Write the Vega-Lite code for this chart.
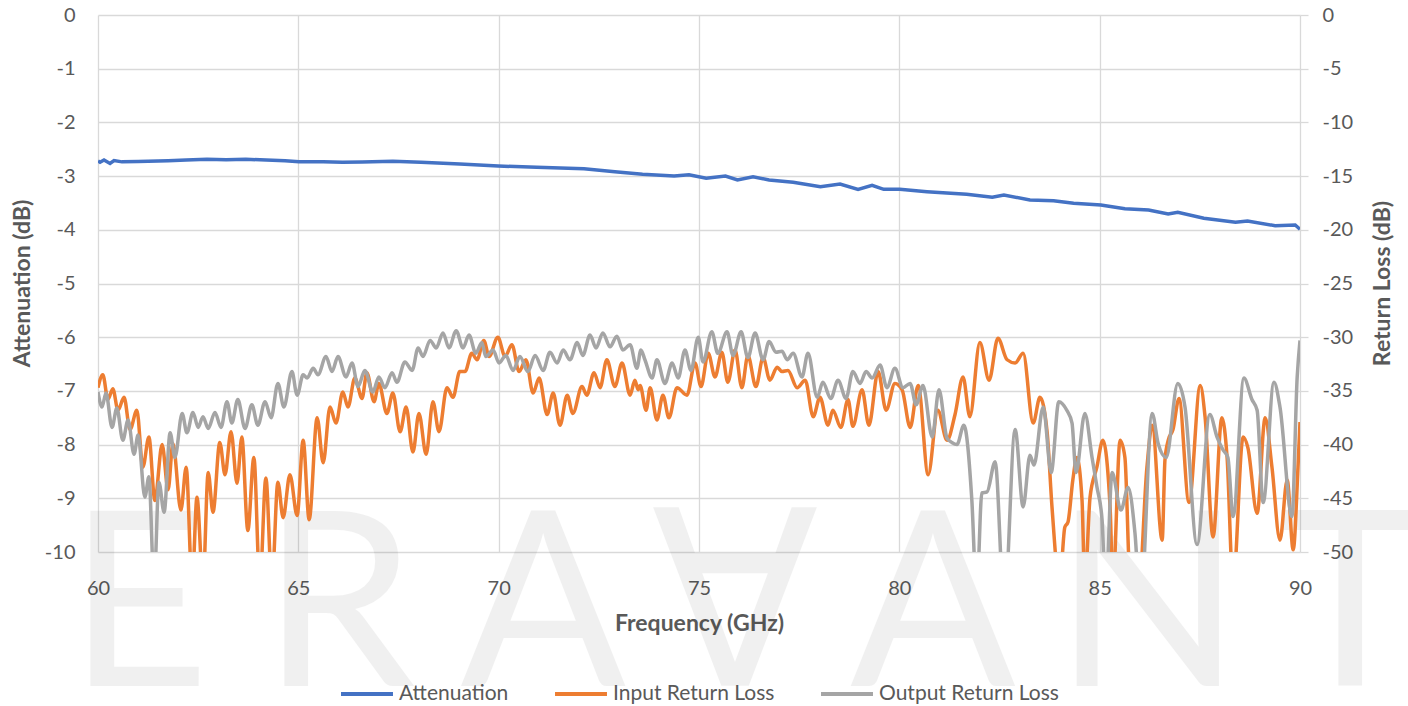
{
  "$schema": "https://vega.github.io/schema/vega-lite/v6.json",
  "width": 1202,
  "height": 537,
  "autosize": {"type": "none"},
  "padding": {"left": 98, "top": 15, "right": 108, "bottom": 154},
  "background": "white",
  "config": {
    "view": {"stroke": null},
    "font": "Lato",
    "axis": {
      "labelFont": "Lato", "labelFontSize": 20, "labelColor": "#595959", "labelFlush": false, "labelOverlap": false,
      "labelExpr": "'' + datum.value",
      "titleFont": "Lato", "titleFontSize": 23, "titleFontWeight": "bold", "titleColor": "#595959",
      "gridColor": "#d9d9d9", "gridWidth": 1.3, "domain": false, "ticks": false
    },
    "legend": {
      "orient": "none", "direction": "horizontal", "legendX": 241, "legendY": 651,
      "symbolType": "stroke", "symbolStrokeWidth": 4, "symbolSize": 2700,
      "labelFont": "Lato", "labelFontSize": 21, "labelColor": "#595959", "labelLimit": 400,
      "columnPadding": 38, "labelOffset": 4, "padding": 0
    }
  },
  "datasets": {
    "wm": [
      {"letter": "E", "pos": 61.02, "vpos": -12.5},
      {"letter": "R", "pos": 66.01, "vpos": -12.5},
      {"letter": "A", "pos": 71.11, "vpos": -12.5},
      {"letter": "∀", "pos": 75.9, "vpos": -12.5},
      {"letter": "A", "pos": 80.84, "vpos": -12.5},
      {"letter": "N", "pos": 86.2, "vpos": -12.5},
      {"letter": "T", "pos": 91.25, "vpos": -12.5}
    ],
    "att": [
      {"f": 60.0, "v": -2.72, "s": "Attenuation"},
      {"f": 60.05, "v": -2.743, "s": "Attenuation"},
      {"f": 60.15, "v": -2.70, "s": "Attenuation"},
      {"f": 60.3, "v": -2.765, "s": "Attenuation"},
      {"f": 60.4, "v": -2.71, "s": "Attenuation"},
      {"f": 60.6, "v": -2.735, "s": "Attenuation"},
      {"f": 61.0, "v": -2.73, "s": "Attenuation"},
      {"f": 61.75, "v": -2.713, "s": "Attenuation"},
      {"f": 62.2, "v": -2.70, "s": "Attenuation"},
      {"f": 62.72, "v": -2.687, "s": "Attenuation"},
      {"f": 63.2, "v": -2.695, "s": "Attenuation"},
      {"f": 63.69, "v": -2.687, "s": "Attenuation"},
      {"f": 64.2, "v": -2.70, "s": "Attenuation"},
      {"f": 64.67, "v": -2.713, "s": "Attenuation"},
      {"f": 65.02, "v": -2.732, "s": "Attenuation"},
      {"f": 65.62, "v": -2.732, "s": "Attenuation"},
      {"f": 66.1, "v": -2.74, "s": "Attenuation"},
      {"f": 66.59, "v": -2.737, "s": "Attenuation"},
      {"f": 67.36, "v": -2.724, "s": "Attenuation"},
      {"f": 68.06, "v": -2.743, "s": "Attenuation"},
      {"f": 69.03, "v": -2.775, "s": "Attenuation"},
      {"f": 69.99, "v": -2.812, "s": "Attenuation"},
      {"f": 70.95, "v": -2.836, "s": "Attenuation"},
      {"f": 72.13, "v": -2.862, "s": "Attenuation"},
      {"f": 72.9, "v": -2.918, "s": "Attenuation"},
      {"f": 73.59, "v": -2.966, "s": "Attenuation"},
      {"f": 74.38, "v": -2.998, "s": "Attenuation"},
      {"f": 74.75, "v": -2.974, "s": "Attenuation"},
      {"f": 75.18, "v": -3.041, "s": "Attenuation"},
      {"f": 75.66, "v": -2.998, "s": "Attenuation"},
      {"f": 75.96, "v": -3.073, "s": "Attenuation"},
      {"f": 76.35, "v": -3.011, "s": "Attenuation"},
      {"f": 76.75, "v": -3.073, "s": "Attenuation"},
      {"f": 77.35, "v": -3.115, "s": "Attenuation"},
      {"f": 78.03, "v": -3.197, "s": "Attenuation"},
      {"f": 78.52, "v": -3.147, "s": "Attenuation"},
      {"f": 78.97, "v": -3.246, "s": "Attenuation"},
      {"f": 79.32, "v": -3.171, "s": "Attenuation"},
      {"f": 79.61, "v": -3.246, "s": "Attenuation"},
      {"f": 80.01, "v": -3.246, "s": "Attenuation"},
      {"f": 80.69, "v": -3.29, "s": "Attenuation"},
      {"f": 81.68, "v": -3.339, "s": "Attenuation"},
      {"f": 82.32, "v": -3.395, "s": "Attenuation"},
      {"f": 82.61, "v": -3.352, "s": "Attenuation"},
      {"f": 83.26, "v": -3.445, "s": "Attenuation"},
      {"f": 83.85, "v": -3.458, "s": "Attenuation"},
      {"f": 84.35, "v": -3.507, "s": "Attenuation"},
      {"f": 85.03, "v": -3.538, "s": "Attenuation"},
      {"f": 85.63, "v": -3.607, "s": "Attenuation"},
      {"f": 86.22, "v": -3.631, "s": "Attenuation"},
      {"f": 86.71, "v": -3.706, "s": "Attenuation"},
      {"f": 86.95, "v": -3.674, "s": "Attenuation"},
      {"f": 87.6, "v": -3.786, "s": "Attenuation"},
      {"f": 88.39, "v": -3.86, "s": "Attenuation"},
      {"f": 88.69, "v": -3.836, "s": "Attenuation"},
      {"f": 89.38, "v": -3.924, "s": "Attenuation"},
      {"f": 89.88, "v": -3.911, "s": "Attenuation"},
      {"f": 90.0, "v": -3.99, "s": "Attenuation"}
    ],
    "rl": [
      {"f": 60.00, "v": -34.7, "s": "Input Return Loss"},
      {"f": 60.12, "v": -33.5, "s": "Input Return Loss"},
      {"f": 60.25, "v": -35.8, "s": "Input Return Loss"},
      {"f": 60.37, "v": -34.8, "s": "Input Return Loss"},
      {"f": 60.50, "v": -36.8, "s": "Input Return Loss"},
      {"f": 60.65, "v": -35.6, "s": "Input Return Loss"},
      {"f": 60.80, "v": -38.6, "s": "Input Return Loss"},
      {"f": 60.97, "v": -36.8, "s": "Input Return Loss"},
      {"f": 61.12, "v": -42.1, "s": "Input Return Loss"},
      {"f": 61.27, "v": -39.3, "s": "Input Return Loss"},
      {"f": 61.42, "v": -45.2, "s": "Input Return Loss"},
      {"f": 61.60, "v": -40.0, "s": "Input Return Loss"},
      {"f": 61.75, "v": -44.2, "s": "Input Return Loss"},
      {"f": 61.87, "v": -39.9, "s": "Input Return Loss"},
      {"f": 62.07, "v": -46.1, "s": "Input Return Loss"},
      {"f": 62.20, "v": -42.1, "s": "Input Return Loss"},
      {"f": 62.35, "v": -53, "s": "Input Return Loss"},
      {"f": 62.47, "v": -44.9, "s": "Input Return Loss"},
      {"f": 62.62, "v": -53, "s": "Input Return Loss"},
      {"f": 62.75, "v": -42.6, "s": "Input Return Loss"},
      {"f": 62.87, "v": -46.3, "s": "Input Return Loss"},
      {"f": 63.04, "v": -39.8, "s": "Input Return Loss"},
      {"f": 63.17, "v": -42.8, "s": "Input Return Loss"},
      {"f": 63.32, "v": -38.8, "s": "Input Return Loss"},
      {"f": 63.47, "v": -43.6, "s": "Input Return Loss"},
      {"f": 63.59, "v": -39.3, "s": "Input Return Loss"},
      {"f": 63.74, "v": -48.0, "s": "Input Return Loss"},
      {"f": 63.89, "v": -41.2, "s": "Input Return Loss"},
      {"f": 64.04, "v": -53, "s": "Input Return Loss"},
      {"f": 64.19, "v": -43.1, "s": "Input Return Loss"},
      {"f": 64.34, "v": -53, "s": "Input Return Loss"},
      {"f": 64.49, "v": -43.5, "s": "Input Return Loss"},
      {"f": 64.62, "v": -46.8, "s": "Input Return Loss"},
      {"f": 64.79, "v": -42.8, "s": "Input Return Loss"},
      {"f": 64.97, "v": -46.6, "s": "Input Return Loss"},
      {"f": 65.12, "v": -39.6, "s": "Input Return Loss"},
      {"f": 65.27, "v": -47.0, "s": "Input Return Loss"},
      {"f": 65.47, "v": -37.5, "s": "Input Return Loss"},
      {"f": 65.62, "v": -41.7, "s": "Input Return Loss"},
      {"f": 65.79, "v": -36.5, "s": "Input Return Loss"},
      {"f": 65.94, "v": -38.0, "s": "Input Return Loss"},
      {"f": 66.11, "v": -35.1, "s": "Input Return Loss"},
      {"f": 66.24, "v": -36.5, "s": "Input Return Loss"},
      {"f": 66.41, "v": -33.8, "s": "Input Return Loss"},
      {"f": 66.59, "v": -35.7, "s": "Input Return Loss"},
      {"f": 66.71, "v": -33.3, "s": "Input Return Loss"},
      {"f": 66.89, "v": -36.0, "s": "Input Return Loss"},
      {"f": 67.01, "v": -34.3, "s": "Input Return Loss"},
      {"f": 67.21, "v": -37.1, "s": "Input Return Loss"},
      {"f": 67.36, "v": -35.2, "s": "Input Return Loss"},
      {"f": 67.54, "v": -38.8, "s": "Input Return Loss"},
      {"f": 67.69, "v": -36.5, "s": "Input Return Loss"},
      {"f": 67.86, "v": -40.7, "s": "Input Return Loss"},
      {"f": 68.01, "v": -37.1, "s": "Input Return Loss"},
      {"f": 68.19, "v": -40.9, "s": "Input Return Loss"},
      {"f": 68.36, "v": -36.0, "s": "Input Return Loss"},
      {"f": 68.51, "v": -38.8, "s": "Input Return Loss"},
      {"f": 68.71, "v": -34.7, "s": "Input Return Loss"},
      {"f": 68.86, "v": -35.6, "s": "Input Return Loss"},
      {"f": 69.03, "v": -33.2, "s": "Input Return Loss"},
      {"f": 69.16, "v": -33.2, "s": "Input Return Loss"},
      {"f": 69.33, "v": -31.5, "s": "Input Return Loss"},
      {"f": 69.46, "v": -32.1, "s": "Input Return Loss"},
      {"f": 69.63, "v": -30.3, "s": "Input Return Loss"},
      {"f": 69.76, "v": -31.8, "s": "Input Return Loss"},
      {"f": 69.98, "v": -30.0, "s": "Input Return Loss"},
      {"f": 70.16, "v": -31.8, "s": "Input Return Loss"},
      {"f": 70.33, "v": -30.7, "s": "Input Return Loss"},
      {"f": 70.51, "v": -33.2, "s": "Input Return Loss"},
      {"f": 70.68, "v": -32.1, "s": "Input Return Loss"},
      {"f": 70.86, "v": -35.2, "s": "Input Return Loss"},
      {"f": 71.01, "v": -33.8, "s": "Input Return Loss"},
      {"f": 71.21, "v": -37.2, "s": "Input Return Loss"},
      {"f": 71.36, "v": -35.2, "s": "Input Return Loss"},
      {"f": 71.53, "v": -38.2, "s": "Input Return Loss"},
      {"f": 71.71, "v": -35.4, "s": "Input Return Loss"},
      {"f": 71.85, "v": -37.1, "s": "Input Return Loss"},
      {"f": 72.08, "v": -34.6, "s": "Input Return Loss"},
      {"f": 72.20, "v": -35.4, "s": "Input Return Loss"},
      {"f": 72.38, "v": -33.3, "s": "Input Return Loss"},
      {"f": 72.53, "v": -34.7, "s": "Input Return Loss"},
      {"f": 72.70, "v": -32.1, "s": "Input Return Loss"},
      {"f": 72.90, "v": -34.6, "s": "Input Return Loss"},
      {"f": 73.08, "v": -32.4, "s": "Input Return Loss"},
      {"f": 73.28, "v": -35.4, "s": "Input Return Loss"},
      {"f": 73.40, "v": -34.0, "s": "Input Return Loss"},
      {"f": 73.48, "v": -34.9, "s": "Input Return Loss"},
      {"f": 73.53, "v": -34.5, "s": "Input Return Loss"},
      {"f": 73.68, "v": -36.8, "s": "Input Return Loss"},
      {"f": 73.78, "v": -34.7, "s": "Input Return Loss"},
      {"f": 73.95, "v": -37.7, "s": "Input Return Loss"},
      {"f": 74.10, "v": -35.4, "s": "Input Return Loss"},
      {"f": 74.25, "v": -37.5, "s": "Input Return Loss"},
      {"f": 74.45, "v": -34.7, "s": "Input Return Loss"},
      {"f": 74.70, "v": -35.4, "s": "Input Return Loss"},
      {"f": 74.90, "v": -32.4, "s": "Input Return Loss"},
      {"f": 75.05, "v": -34.6, "s": "Input Return Loss"},
      {"f": 75.23, "v": -31.5, "s": "Input Return Loss"},
      {"f": 75.40, "v": -33.7, "s": "Input Return Loss"},
      {"f": 75.57, "v": -31.4, "s": "Input Return Loss"},
      {"f": 75.72, "v": -34.2, "s": "Input Return Loss"},
      {"f": 75.90, "v": -31.2, "s": "Input Return Loss"},
      {"f": 76.07, "v": -34.7, "s": "Input Return Loss"},
      {"f": 76.22, "v": -31.7, "s": "Input Return Loss"},
      {"f": 76.42, "v": -34.6, "s": "Input Return Loss"},
      {"f": 76.60, "v": -31.9, "s": "Input Return Loss"},
      {"f": 76.77, "v": -34.0, "s": "Input Return Loss"},
      {"f": 76.95, "v": -32.8, "s": "Input Return Loss"},
      {"f": 77.07, "v": -33.2, "s": "Input Return Loss"},
      {"f": 77.22, "v": -33.1, "s": "Input Return Loss"},
      {"f": 77.45, "v": -34.7, "s": "Input Return Loss"},
      {"f": 77.65, "v": -34.0, "s": "Input Return Loss"},
      {"f": 77.85, "v": -37.4, "s": "Input Return Loss"},
      {"f": 78.02, "v": -35.6, "s": "Input Return Loss"},
      {"f": 78.22, "v": -38.2, "s": "Input Return Loss"},
      {"f": 78.34, "v": -36.8, "s": "Input Return Loss"},
      {"f": 78.54, "v": -38.4, "s": "Input Return Loss"},
      {"f": 78.72, "v": -35.8, "s": "Input Return Loss"},
      {"f": 78.84, "v": -38.3, "s": "Input Return Loss"},
      {"f": 79.07, "v": -34.9, "s": "Input Return Loss"},
      {"f": 79.24, "v": -38.2, "s": "Input Return Loss"},
      {"f": 79.47, "v": -33.2, "s": "Input Return Loss"},
      {"f": 79.67, "v": -36.8, "s": "Input Return Loss"},
      {"f": 79.89, "v": -34.3, "s": "Input Return Loss"},
      {"f": 80.07, "v": -34.9, "s": "Input Return Loss"},
      {"f": 80.27, "v": -38.4, "s": "Input Return Loss"},
      {"f": 80.47, "v": -34.5, "s": "Input Return Loss"},
      {"f": 80.72, "v": -42.8, "s": "Input Return Loss"},
      {"f": 80.96, "v": -36.8, "s": "Input Return Loss"},
      {"f": 81.19, "v": -39.6, "s": "Input Return Loss"},
      {"f": 81.39, "v": -37.2, "s": "Input Return Loss"},
      {"f": 81.59, "v": -33.7, "s": "Input Return Loss"},
      {"f": 81.76, "v": -37.4, "s": "Input Return Loss"},
      {"f": 82.01, "v": -30.5, "s": "Input Return Loss"},
      {"f": 82.24, "v": -34.0, "s": "Input Return Loss"},
      {"f": 82.46, "v": -30.1, "s": "Input Return Loss"},
      {"f": 82.69, "v": -32.1, "s": "Input Return Loss"},
      {"f": 82.89, "v": -32.4, "s": "Input Return Loss"},
      {"f": 83.09, "v": -31.5, "s": "Input Return Loss"},
      {"f": 83.34, "v": -38.0, "s": "Input Return Loss"},
      {"f": 83.51, "v": -35.6, "s": "Input Return Loss"},
      {"f": 83.69, "v": -38.9, "s": "Input Return Loss"},
      {"f": 83.81, "v": -45.8, "s": "Input Return Loss"},
      {"f": 84.00, "v": -53, "s": "Input Return Loss"},
      {"f": 84.13, "v": -47.7, "s": "Input Return Loss"},
      {"f": 84.21, "v": -47.2, "s": "Input Return Loss"},
      {"f": 84.33, "v": -43.3, "s": "Input Return Loss"},
      {"f": 84.43, "v": -41.2, "s": "Input Return Loss"},
      {"f": 84.56, "v": -45.2, "s": "Input Return Loss"},
      {"f": 84.63, "v": -53, "s": "Input Return Loss"},
      {"f": 84.76, "v": -44.9, "s": "Input Return Loss"},
      {"f": 84.93, "v": -42.1, "s": "Input Return Loss"},
      {"f": 85.08, "v": -39.6, "s": "Input Return Loss"},
      {"f": 85.26, "v": -45.8, "s": "Input Return Loss"},
      {"f": 85.33, "v": -53, "s": "Input Return Loss"},
      {"f": 85.51, "v": -39.6, "s": "Input Return Loss"},
      {"f": 85.63, "v": -41.2, "s": "Input Return Loss"},
      {"f": 85.76, "v": -53, "s": "Input Return Loss"},
      {"f": 85.95, "v": -55, "s": "Input Return Loss"},
      {"f": 86.18, "v": -42.1, "s": "Input Return Loss"},
      {"f": 86.31, "v": -38.2, "s": "Input Return Loss"},
      {"f": 86.56, "v": -48.9, "s": "Input Return Loss"},
      {"f": 86.63, "v": -41.4, "s": "Input Return Loss"},
      {"f": 86.71, "v": -39.6, "s": "Input Return Loss"},
      {"f": 86.83, "v": -38.6, "s": "Input Return Loss"},
      {"f": 86.98, "v": -35.7, "s": "Input Return Loss"},
      {"f": 87.23, "v": -45.4, "s": "Input Return Loss"},
      {"f": 87.51, "v": -34.5, "s": "Input Return Loss"},
      {"f": 87.63, "v": -37.4, "s": "Input Return Loss"},
      {"f": 87.83, "v": -48.6, "s": "Input Return Loss"},
      {"f": 88.05, "v": -37.5, "s": "Input Return Loss"},
      {"f": 88.18, "v": -41.2, "s": "Input Return Loss"},
      {"f": 88.33, "v": -53, "s": "Input Return Loss"},
      {"f": 88.58, "v": -39.3, "s": "Input Return Loss"},
      {"f": 88.70, "v": -40.3, "s": "Input Return Loss"},
      {"f": 88.93, "v": -46.4, "s": "Input Return Loss"},
      {"f": 89.13, "v": -37.5, "s": "Input Return Loss"},
      {"f": 89.30, "v": -42.1, "s": "Input Return Loss"},
      {"f": 89.50, "v": -48.9, "s": "Input Return Loss"},
      {"f": 89.68, "v": -43.3, "s": "Input Return Loss"},
      {"f": 89.83, "v": -49.8, "s": "Input Return Loss"},
      {"f": 89.95, "v": -42.1, "s": "Input Return Loss"},
      {"f": 90.00, "v": -37.9, "s": "Input Return Loss"},
      {"f": 60.00, "v": -35.1, "s": "Output Return Loss"},
      {"f": 60.10, "v": -36.5, "s": "Output Return Loss"},
      {"f": 60.20, "v": -35.2, "s": "Output Return Loss"},
      {"f": 60.35, "v": -38.4, "s": "Output Return Loss"},
      {"f": 60.47, "v": -36.6, "s": "Output Return Loss"},
      {"f": 60.62, "v": -39.6, "s": "Output Return Loss"},
      {"f": 60.75, "v": -37.7, "s": "Output Return Loss"},
      {"f": 60.90, "v": -40.9, "s": "Output Return Loss"},
      {"f": 61.00, "v": -39.1, "s": "Output Return Loss"},
      {"f": 61.17, "v": -44.9, "s": "Output Return Loss"},
      {"f": 61.27, "v": -43.0, "s": "Output Return Loss"},
      {"f": 61.40, "v": -53, "s": "Output Return Loss"},
      {"f": 61.52, "v": -43.5, "s": "Output Return Loss"},
      {"f": 61.65, "v": -46.3, "s": "Output Return Loss"},
      {"f": 61.80, "v": -38.9, "s": "Output Return Loss"},
      {"f": 61.92, "v": -41.2, "s": "Output Return Loss"},
      {"f": 62.10, "v": -37.1, "s": "Output Return Loss"},
      {"f": 62.22, "v": -38.9, "s": "Output Return Loss"},
      {"f": 62.37, "v": -37.0, "s": "Output Return Loss"},
      {"f": 62.50, "v": -38.4, "s": "Output Return Loss"},
      {"f": 62.62, "v": -37.4, "s": "Output Return Loss"},
      {"f": 62.75, "v": -38.5, "s": "Output Return Loss"},
      {"f": 62.92, "v": -37.0, "s": "Output Return Loss"},
      {"f": 63.07, "v": -38.4, "s": "Output Return Loss"},
      {"f": 63.22, "v": -36.0, "s": "Output Return Loss"},
      {"f": 63.34, "v": -38.0, "s": "Output Return Loss"},
      {"f": 63.49, "v": -35.8, "s": "Output Return Loss"},
      {"f": 63.67, "v": -38.5, "s": "Output Return Loss"},
      {"f": 63.84, "v": -36.3, "s": "Output Return Loss"},
      {"f": 63.99, "v": -38.2, "s": "Output Return Loss"},
      {"f": 64.17, "v": -36.0, "s": "Output Return Loss"},
      {"f": 64.32, "v": -37.5, "s": "Output Return Loss"},
      {"f": 64.49, "v": -34.3, "s": "Output Return Loss"},
      {"f": 64.64, "v": -36.5, "s": "Output Return Loss"},
      {"f": 64.84, "v": -33.2, "s": "Output Return Loss"},
      {"f": 64.97, "v": -35.4, "s": "Output Return Loss"},
      {"f": 65.12, "v": -33.5, "s": "Output Return Loss"},
      {"f": 65.22, "v": -33.8, "s": "Output Return Loss"},
      {"f": 65.37, "v": -32.9, "s": "Output Return Loss"},
      {"f": 65.49, "v": -33.5, "s": "Output Return Loss"},
      {"f": 65.69, "v": -31.8, "s": "Output Return Loss"},
      {"f": 65.84, "v": -33.2, "s": "Output Return Loss"},
      {"f": 65.99, "v": -31.8, "s": "Output Return Loss"},
      {"f": 66.19, "v": -33.7, "s": "Output Return Loss"},
      {"f": 66.34, "v": -32.4, "s": "Output Return Loss"},
      {"f": 66.49, "v": -34.6, "s": "Output Return Loss"},
      {"f": 66.66, "v": -33.1, "s": "Output Return Loss"},
      {"f": 66.86, "v": -35.1, "s": "Output Return Loss"},
      {"f": 67.01, "v": -33.7, "s": "Output Return Loss"},
      {"f": 67.16, "v": -34.7, "s": "Output Return Loss"},
      {"f": 67.34, "v": -33.3, "s": "Output Return Loss"},
      {"f": 67.46, "v": -34.2, "s": "Output Return Loss"},
      {"f": 67.66, "v": -32.3, "s": "Output Return Loss"},
      {"f": 67.84, "v": -33.1, "s": "Output Return Loss"},
      {"f": 67.99, "v": -31.0, "s": "Output Return Loss"},
      {"f": 68.11, "v": -31.8, "s": "Output Return Loss"},
      {"f": 68.29, "v": -30.3, "s": "Output Return Loss"},
      {"f": 68.44, "v": -31.0, "s": "Output Return Loss"},
      {"f": 68.61, "v": -29.6, "s": "Output Return Loss"},
      {"f": 68.76, "v": -31.0, "s": "Output Return Loss"},
      {"f": 68.94, "v": -29.4, "s": "Output Return Loss"},
      {"f": 69.11, "v": -31.0, "s": "Output Return Loss"},
      {"f": 69.26, "v": -29.8, "s": "Output Return Loss"},
      {"f": 69.43, "v": -31.5, "s": "Output Return Loss"},
      {"f": 69.58, "v": -30.5, "s": "Output Return Loss"},
      {"f": 69.68, "v": -31.8, "s": "Output Return Loss"},
      {"f": 69.86, "v": -31.2, "s": "Output Return Loss"},
      {"f": 70.01, "v": -32.4, "s": "Output Return Loss"},
      {"f": 70.18, "v": -31.7, "s": "Output Return Loss"},
      {"f": 70.36, "v": -33.1, "s": "Output Return Loss"},
      {"f": 70.53, "v": -31.8, "s": "Output Return Loss"},
      {"f": 70.73, "v": -33.2, "s": "Output Return Loss"},
      {"f": 70.91, "v": -31.7, "s": "Output Return Loss"},
      {"f": 71.11, "v": -33.1, "s": "Output Return Loss"},
      {"f": 71.28, "v": -31.4, "s": "Output Return Loss"},
      {"f": 71.46, "v": -32.4, "s": "Output Return Loss"},
      {"f": 71.61, "v": -31.2, "s": "Output Return Loss"},
      {"f": 71.78, "v": -32.1, "s": "Output Return Loss"},
      {"f": 71.96, "v": -30.5, "s": "Output Return Loss"},
      {"f": 72.10, "v": -31.7, "s": "Output Return Loss"},
      {"f": 72.28, "v": -29.8, "s": "Output Return Loss"},
      {"f": 72.43, "v": -31.0, "s": "Output Return Loss"},
      {"f": 72.60, "v": -29.6, "s": "Output Return Loss"},
      {"f": 72.78, "v": -30.9, "s": "Output Return Loss"},
      {"f": 72.95, "v": -29.9, "s": "Output Return Loss"},
      {"f": 73.10, "v": -31.2, "s": "Output Return Loss"},
      {"f": 73.28, "v": -30.7, "s": "Output Return Loss"},
      {"f": 73.45, "v": -32.9, "s": "Output Return Loss"},
      {"f": 73.55, "v": -31.2, "s": "Output Return Loss"},
      {"f": 73.65, "v": -32.1, "s": "Output Return Loss"},
      {"f": 73.83, "v": -33.8, "s": "Output Return Loss"},
      {"f": 73.95, "v": -32.1, "s": "Output Return Loss"},
      {"f": 74.15, "v": -34.3, "s": "Output Return Loss"},
      {"f": 74.33, "v": -32.4, "s": "Output Return Loss"},
      {"f": 74.48, "v": -33.8, "s": "Output Return Loss"},
      {"f": 74.65, "v": -31.2, "s": "Output Return Loss"},
      {"f": 74.80, "v": -33.1, "s": "Output Return Loss"},
      {"f": 74.98, "v": -30.0, "s": "Output Return Loss"},
      {"f": 75.10, "v": -32.3, "s": "Output Return Loss"},
      {"f": 75.32, "v": -29.5, "s": "Output Return Loss"},
      {"f": 75.47, "v": -31.5, "s": "Output Return Loss"},
      {"f": 75.70, "v": -29.5, "s": "Output Return Loss"},
      {"f": 75.85, "v": -31.7, "s": "Output Return Loss"},
      {"f": 76.05, "v": -29.5, "s": "Output Return Loss"},
      {"f": 76.22, "v": -31.9, "s": "Output Return Loss"},
      {"f": 76.40, "v": -29.6, "s": "Output Return Loss"},
      {"f": 76.60, "v": -32.1, "s": "Output Return Loss"},
      {"f": 76.75, "v": -30.4, "s": "Output Return Loss"},
      {"f": 76.92, "v": -31.4, "s": "Output Return Loss"},
      {"f": 77.07, "v": -31.3, "s": "Output Return Loss"},
      {"f": 77.20, "v": -32.1, "s": "Output Return Loss"},
      {"f": 77.35, "v": -31.5, "s": "Output Return Loss"},
      {"f": 77.57, "v": -33.7, "s": "Output Return Loss"},
      {"f": 77.72, "v": -31.5, "s": "Output Return Loss"},
      {"f": 77.95, "v": -35.6, "s": "Output Return Loss"},
      {"f": 78.09, "v": -34.2, "s": "Output Return Loss"},
      {"f": 78.29, "v": -35.7, "s": "Output Return Loss"},
      {"f": 78.47, "v": -34.0, "s": "Output Return Loss"},
      {"f": 78.67, "v": -35.7, "s": "Output Return Loss"},
      {"f": 78.84, "v": -33.2, "s": "Output Return Loss"},
      {"f": 79.02, "v": -34.3, "s": "Output Return Loss"},
      {"f": 79.17, "v": -33.2, "s": "Output Return Loss"},
      {"f": 79.32, "v": -33.8, "s": "Output Return Loss"},
      {"f": 79.52, "v": -32.6, "s": "Output Return Loss"},
      {"f": 79.69, "v": -34.7, "s": "Output Return Loss"},
      {"f": 79.89, "v": -32.9, "s": "Output Return Loss"},
      {"f": 80.09, "v": -34.7, "s": "Output Return Loss"},
      {"f": 80.27, "v": -34.3, "s": "Output Return Loss"},
      {"f": 80.42, "v": -36.3, "s": "Output Return Loss"},
      {"f": 80.59, "v": -34.5, "s": "Output Return Loss"},
      {"f": 80.82, "v": -39.3, "s": "Output Return Loss"},
      {"f": 80.99, "v": -34.9, "s": "Output Return Loss"},
      {"f": 81.19, "v": -39.4, "s": "Output Return Loss"},
      {"f": 81.31, "v": -39.8, "s": "Output Return Loss"},
      {"f": 81.44, "v": -40.0, "s": "Output Return Loss"},
      {"f": 81.61, "v": -38.2, "s": "Output Return Loss"},
      {"f": 81.81, "v": -45.2, "s": "Output Return Loss"},
      {"f": 81.93, "v": -54, "s": "Output Return Loss"},
      {"f": 82.06, "v": -44.5, "s": "Output Return Loss"},
      {"f": 82.19, "v": -44.4, "s": "Output Return Loss"},
      {"f": 82.39, "v": -41.6, "s": "Output Return Loss"},
      {"f": 82.62, "v": -55, "s": "Output Return Loss"},
      {"f": 82.89, "v": -38.6, "s": "Output Return Loss"},
      {"f": 83.09, "v": -45.8, "s": "Output Return Loss"},
      {"f": 83.26, "v": -41.0, "s": "Output Return Loss"},
      {"f": 83.36, "v": -41.9, "s": "Output Return Loss"},
      {"f": 83.59, "v": -36.5, "s": "Output Return Loss"},
      {"f": 83.79, "v": -42.6, "s": "Output Return Loss"},
      {"f": 83.98, "v": -36.0, "s": "Output Return Loss"},
      {"f": 84.18, "v": -36.8, "s": "Output Return Loss"},
      {"f": 84.31, "v": -38.0, "s": "Output Return Loss"},
      {"f": 84.41, "v": -42.6, "s": "Output Return Loss"},
      {"f": 84.63, "v": -37.1, "s": "Output Return Loss"},
      {"f": 84.81, "v": -41.2, "s": "Output Return Loss"},
      {"f": 84.93, "v": -43.9, "s": "Output Return Loss"},
      {"f": 85.06, "v": -47.0, "s": "Output Return Loss"},
      {"f": 85.15, "v": -54, "s": "Output Return Loss"},
      {"f": 85.31, "v": -42.6, "s": "Output Return Loss"},
      {"f": 85.53, "v": -46.1, "s": "Output Return Loss"},
      {"f": 85.71, "v": -44.0, "s": "Output Return Loss"},
      {"f": 85.88, "v": -48.2, "s": "Output Return Loss"},
      {"f": 86.02, "v": -55, "s": "Output Return Loss"},
      {"f": 86.31, "v": -37.1, "s": "Output Return Loss"},
      {"f": 86.46, "v": -39.9, "s": "Output Return Loss"},
      {"f": 86.66, "v": -41.2, "s": "Output Return Loss"},
      {"f": 86.95, "v": -34.3, "s": "Output Return Loss"},
      {"f": 87.13, "v": -36.5, "s": "Output Return Loss"},
      {"f": 87.43, "v": -49.3, "s": "Output Return Loss"},
      {"f": 87.75, "v": -37.2, "s": "Output Return Loss"},
      {"f": 87.93, "v": -39.3, "s": "Output Return Loss"},
      {"f": 88.08, "v": -40.5, "s": "Output Return Loss"},
      {"f": 88.20, "v": -41.2, "s": "Output Return Loss"},
      {"f": 88.33, "v": -46.7, "s": "Output Return Loss"},
      {"f": 88.60, "v": -33.8, "s": "Output Return Loss"},
      {"f": 88.80, "v": -35.8, "s": "Output Return Loss"},
      {"f": 88.93, "v": -36.8, "s": "Output Return Loss"},
      {"f": 89.08, "v": -45.4, "s": "Output Return Loss"},
      {"f": 89.35, "v": -34.2, "s": "Output Return Loss"},
      {"f": 89.50, "v": -36.5, "s": "Output Return Loss"},
      {"f": 89.80, "v": -46.7, "s": "Output Return Loss"},
      {"f": 89.93, "v": -33.7, "s": "Output Return Loss"},
      {"f": 90.00, "v": -30.3, "s": "Output Return Loss"}
    ]
  },
  "layer": [
    {
      "data": {"name": "wm"},
      "mark": {"type": "text", "font": "Lato, DejaVu Sans", "fontSize": 245, "color": "#000000", "opacity": 0.055, "baseline": "alphabetic", "align": "center", "clip": false},
      "encoding": {
        "x": {"field": "pos", "type": "quantitative", "scale": {"domain": [60, 90]},
              "axis": {"values": [60, 65, 70, 75, 80, 85, 90], "title": "Frequency (GHz)", "grid": true, "labelPadding": 26, "titlePadding": 14}},
        "y": {"field": "vpos", "type": "quantitative", "scale": {"domain": [-10, 0]}, "axis": null},
        "text": {"field": "letter"}
      }
    },
    {
      "data": {"name": "att"},
      "mark": {"type": "line", "strokeWidth": 3.5, "clip": true},
      "encoding": {
        "x": {"field": "f", "type": "quantitative"},
        "y": {"field": "v", "type": "quantitative", "scale": {"domain": [-10, 0]},
              "axis": {"orient": "left", "values": [0, -1, -2, -3, -4, -5, -6, -7, -8, -9, -10], "title": "Attenuation (dB)", "grid": true, "labelPadding": 23,
                       "titleX": -76, "titleY": 268, "titleAngle": 270, "titleAlign": "center", "titleBaseline": "middle"}},
        "color": {"field": "s", "type": "nominal",
                  "scale": {"domain": ["Attenuation", "Input Return Loss", "Output Return Loss"], "range": ["#4472C4", "#ED7D31", "#A5A5A5"]},
                  "legend": {"title": null}}
      }
    },
    {
      "data": {"name": "rl"},
      "mark": {"type": "line", "strokeWidth": 3.5, "interpolate": "monotone", "clip": true},
      "encoding": {
        "x": {"field": "f", "type": "quantitative"},
        "y": {"field": "v", "type": "quantitative", "scale": {"domain": [-50, 0]},
              "axis": {"orient": "right", "values": [0, -5, -10, -15, -20, -25, -30, -35, -40, -45, -50], "title": "Return Loss (dB)", "grid": false, "ticks": true, "tickSize": 8, "tickColor": "#d9d9d9", "tickWidth": 1.3, "labelPadding": 14,
                       "titleX": 82, "titleY": 268, "titleAngle": 270, "titleAlign": "center", "titleBaseline": "middle"}},
        "color": {"field": "s", "type": "nominal"}
      }
    }
  ],
  "resolve": {"scale": {"y": "independent"}}
}
